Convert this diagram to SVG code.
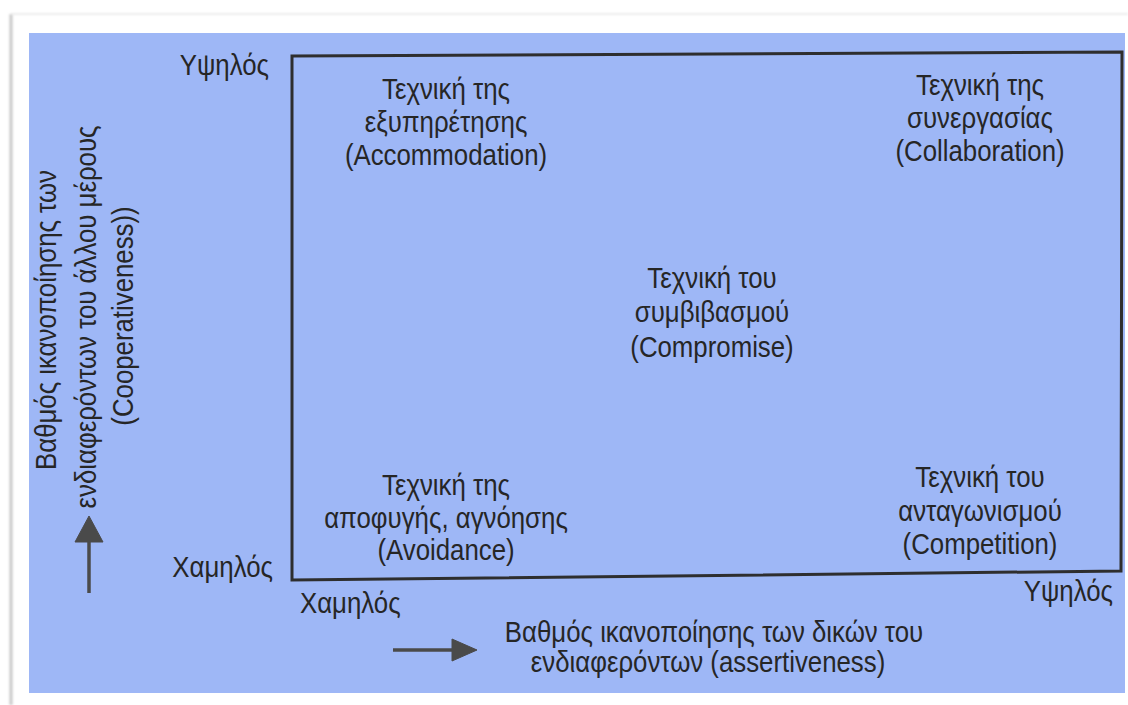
<svg xmlns="http://www.w3.org/2000/svg" width="1128" height="705" viewBox="0 0 1128 705">
  <defs>
    <style>
      .t { font-family: "Liberation Sans", Arial, sans-serif; font-size: 29px; fill: #262626; }
      .c { text-anchor: middle; }
      .e { text-anchor: end; }
      .frame { fill: none; stroke: #2e2e2e; stroke-width: 3; stroke-linejoin: miter; }
      .arrow { fill: #4a4a4a; stroke: #4a4a4a; }
    </style>
    <filter id="soft" x="-50%" y="-50%" width="200%" height="200%">
      <feGaussianBlur stdDeviation="1.2"/>
    </filter>
  </defs>

  <!-- page -->
  <rect x="0" y="0" width="1128" height="705" fill="#ffffff"/>
  <g id="page-edge" filter="url(#soft)">
    <line x1="11" y1="14" x2="11" y2="705" stroke="#c8c8c8" stroke-width="3"/>
    <line x1="11" y1="14" x2="1128" y2="14" stroke="#ececec" stroke-width="2"/>
  </g>

  <!-- blue panel -->
  <rect id="panel" x="29" y="33" width="1096" height="660" fill="#9eb7f6"/>

  <!-- matrix frame -->
  <g id="matrix">
    <path class="frame" d="M292,56 L1122,52 L1121,571 L292,580 Z"/>
  </g>

  <!-- axis end labels (narrow type: scaled 0.89 horizontally) -->
  <g id="y-axis-labels">
    <text class="t e" transform="translate(269,75) scale(0.89,1)">Υψηλός</text>
    <text class="t e" transform="translate(273,577) scale(0.89,1)">Χαμηλός</text>
  </g>
  <g id="x-axis-labels">
    <text class="t" transform="translate(300,613) scale(0.89,1)">Χαμηλός</text>
    <text class="t e" transform="translate(1113,601) scale(0.89,1)">Υψηλός</text>
  </g>

  <!-- quadrant techniques -->
  <g id="accommodation">
    <text class="t c" transform="translate(446,99) scale(0.89,1)">Τεχνική της</text>
    <text class="t c" transform="translate(446,132) scale(0.89,1)">εξυπηρέτησης</text>
    <text class="t c" transform="translate(446,165) scale(0.89,1)">(Accommodation)</text>
  </g>
  <g id="collaboration">
    <text class="t c" transform="translate(980,95) scale(0.89,1)">Τεχνική της</text>
    <text class="t c" transform="translate(980,128) scale(0.89,1)">συνεργασίας</text>
    <text class="t c" transform="translate(980,161) scale(0.89,1)">(Collaboration)</text>
  </g>
  <g id="compromise">
    <text class="t c" transform="translate(712,288) scale(0.89,1)">Τεχνική του</text>
    <text class="t c" transform="translate(712,322) scale(0.89,1)">συμβιβασμού</text>
    <text class="t c" transform="translate(712,357) scale(0.89,1)">(Compromise)</text>
  </g>
  <g id="avoidance">
    <text class="t c" transform="translate(446,495) scale(0.89,1)">Τεχνική της</text>
    <text class="t c" transform="translate(446,528) scale(0.89,1)">αποφυγής, αγνόησης</text>
    <text class="t c" transform="translate(446,560) scale(0.89,1)">(Avoidance)</text>
  </g>
  <g id="competition">
    <text class="t c" transform="translate(980,487) scale(0.89,1)">Τεχνική του</text>
    <text class="t c" transform="translate(980,521) scale(0.89,1)">ανταγωνισμού</text>
    <text class="t c" transform="translate(980,554) scale(0.89,1)">(Competition)</text>
  </g>

  <!-- axis titles -->
  <g id="y-axis-title">
    <text class="t c" transform="translate(56,320) rotate(-90) scale(0.89,1)">Βαθμός ικανοποίησης των</text>
    <text class="t c" transform="translate(96,317) rotate(-90) scale(0.89,1)">ενδιαφερόντων του άλλου μέρους</text>
    <text class="t c" transform="translate(133,316) rotate(-90) scale(0.89,1)">(Cooperativeness))</text>
  </g>
  <g id="x-axis-title">
    <text class="t c" transform="translate(714,642) scale(0.89,1)">Βαθμός ικανοποίησης των δικών του</text>
    <text class="t c" transform="translate(708,672) scale(0.89,1)">ενδιαφερόντων (assertiveness)</text>
  </g>

  <!-- axis arrows -->
  <g id="connectors">
    <line x1="89" y1="593" x2="89" y2="538" stroke="#4a4a4a" stroke-width="3.5"/>
    <polygon class="arrow" points="89,516 75,542 103,542"/>
    <line x1="393" y1="650" x2="456" y2="650" stroke="#4a4a4a" stroke-width="3.5"/>
    <polygon class="arrow" points="477,650 452,639 452,661"/>
  </g>
</svg>
